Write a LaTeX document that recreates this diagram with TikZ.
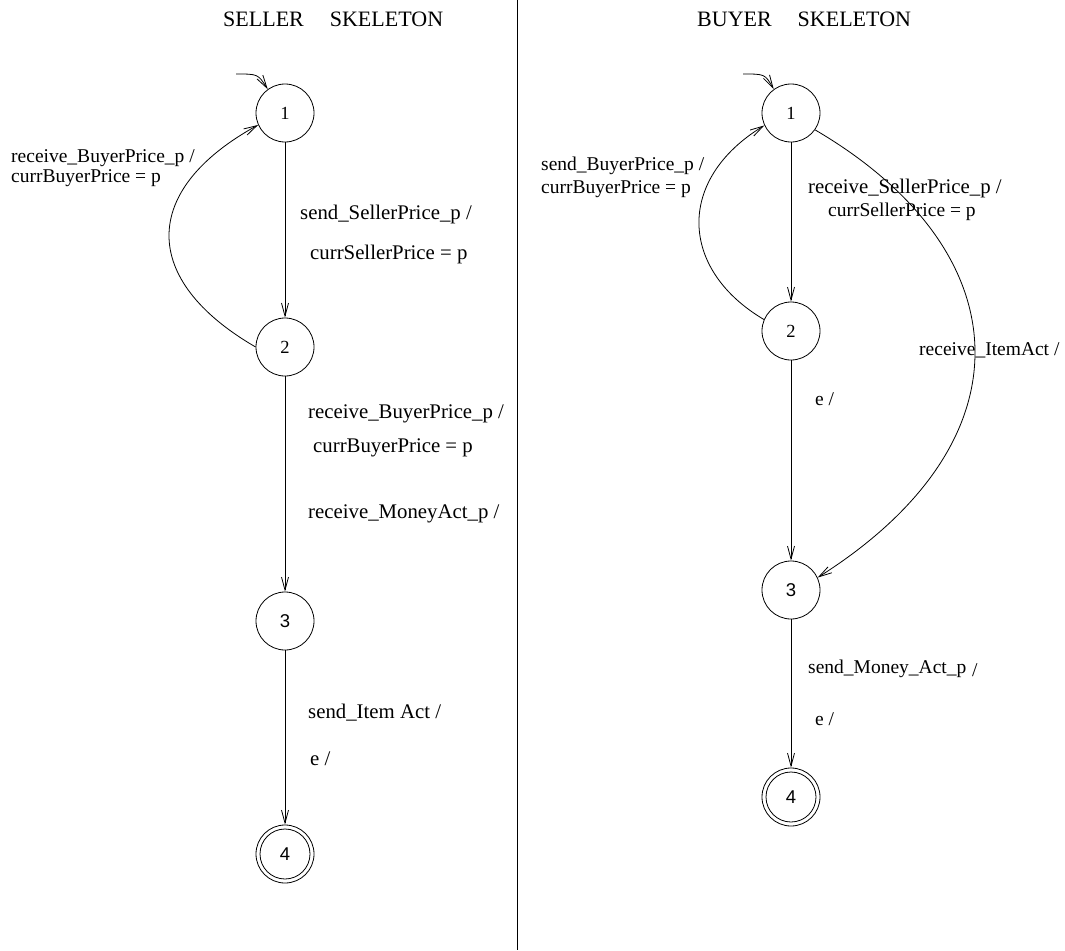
\documentclass[tikz,border=0pt]{standalone}
\usepackage{fontspec}
\setmainfont{Liberation Serif}
\newfontfamily\digitsans{Liberation Sans}
\usetikzlibrary{arrows.meta}
\begin{document}
\begin{tikzpicture}[x=1pt,y=-1pt,
  stateC/.style={circle,draw,line width=0.8pt,minimum size=58pt,inner sep=0pt,
    font=\fontsize{18.5}{20}\selectfont},
  finalC/.style={stateC,path picture={\draw[line width=0.8pt]
    (path picture bounding box.center) circle[radius=25pt];}},
  trans/.style={draw,line width=0.8pt,-{Straight Barb[length=13pt,width=7pt]}},
  lbl/.style={anchor=base west,inner sep=0pt,font=\fontsize{19.5}{22}\selectfont},
  lblL/.style={lbl,font=\fontsize{20.8}{23}\selectfont},
  ttl/.style={anchor=base west,inner sep=0pt,font=\fontsize{22}{24}\selectfont}]
\useasboundingbox (0,0) rectangle (1065,950);

% column divider
\coordinate (dtop) at (517,0);
\coordinate (dbot) at (517,950);
\draw[line width=0.8pt] (dtop) -- (dbot);

% titles
\node[ttl] (tsell) at (223,27) {SELLER\hspace{26pt}SKELETON};
\node[ttl] (tbuy) at (697,27) {BUYER\hspace{26pt}SKELETON};

% ---------- seller automaton ----------
\node[stateC] (s1) at (285,113) {1};
\node[stateC] (s2) at (285,347) {2};
\node[stateC] (s3) at (285,621) {\digitsans 3};
\node[finalC] (s4) at (285,854) {\digitsans 4};
\coordinate (sinit) at (236,74);

\draw[trans] (sinit) .. controls (258,74) .. (s1.126);
\draw[trans] (s1) -- (s2);
\draw[trans] (s2.west) .. controls (140,280) and (140,190) .. (s1.204);
\draw[trans] (s2) -- (s3);
\draw[trans] (s3) -- (s4);

\node[lbl] (sl1) at (11,162) {receive\_BuyerPrice\_p /};
\node[lbl] (sl2) at (11,182) {currBuyerPrice = p};
\node[lblL] (sl3) at (300,219) {send\_SellerPrice\_p /};
\node[lblL] (sl4) at (310,259) {currSellerPrice = p};
\node[lblL] (sl5) at (308,418) {receive\_BuyerPrice\_p /};
\node[lblL] (sl6) at (313,452) {currBuyerPrice = p};
\node[lblL] (sl7) at (308,518) {receive\_MoneyAct\_p /};
\node[lblL] (sl8) at (308,718) {send\_Item Act /};
\node[lblL] (sl9) at (310,765) {e /};

% ---------- buyer automaton ----------
\node[stateC] (b1) at (791,113) {1};
\node[stateC] (b2) at (791,331) {2};
\node[stateC] (b3) at (791,590) {\digitsans 3};
\node[finalC] (b4) at (791,797) {\digitsans 4};
\coordinate (binit) at (743,74);

\draw[trans] (binit) .. controls (765,74) .. (b1.126);
\draw[trans] (b1) -- (b2);
\draw[trans] (b2.157) .. controls (680,270) and (675,180) .. (b1.205);
\draw[trans] (b1.-35) .. controls (1020,250) and (1035,440) .. (b3.25);
\draw[trans] (b2) -- (b3);
\draw[trans] (b3) -- (b4);

\node[lbl] (bl1) at (541,170) {send\_BuyerPrice\_p /};
\node[lbl] (bl2) at (541,193) {currBuyerPrice = p};
\node[lblL] (bl3) at (808,193) {receive\_SellerPrice\_p /};
\node[lbl] (bl4) at (828,216) {currSellerPrice = p};
\node[lbl] (bl5) at (919,355) {receive\_ItemAct /};
\node[lbl] (bl6) at (815,405) {e /};
\node[lbl] (bl7) at (808,673) {send\_Money\_Act\_p};
\node[lbl] (bl8) at (972,676) {/};
\node[lbl] (bl9) at (815,725) {e /};
\end{tikzpicture}
\end{document}
